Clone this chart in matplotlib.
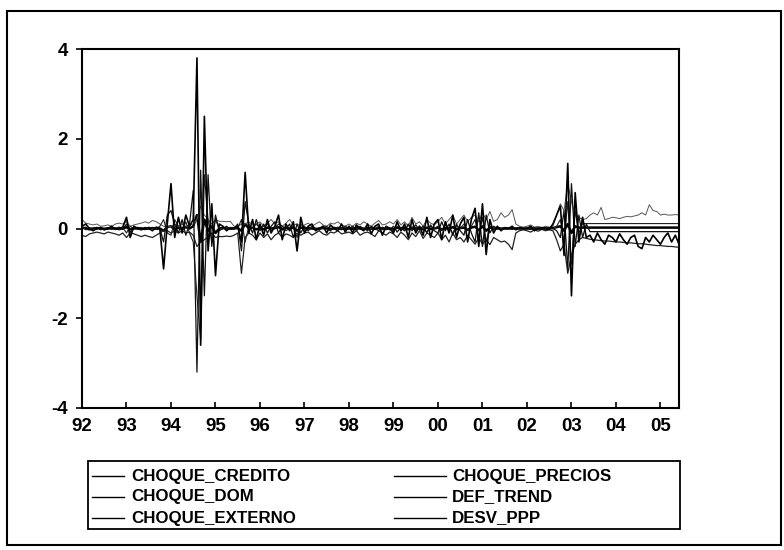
import matplotlib
matplotlib.use("Agg")
import matplotlib.pyplot as plt
from matplotlib.lines import Line2D
from matplotlib.patches import Rectangle
import numpy as np

plt.rcParams['font.family'] = ['Liberation Sans', 'DejaVu Sans']

start_year = 1992
year_ticks = list(range(1992, 2006))
year_labels = ['92', '93', '94', '95', '96', '97', '98', '99', '00', '01', '02', '03', '04', '05']
y_ticks = [-4, -2, 0, 2, 4]
y_labels = ['-4', '-2', '0', '2', '4']

choque_credito = [
    0.05, -0.03, 0.02, 0.00, -0.02, 0.03, 0.00, -0.02, 0.02, 0.00, -0.03, 0.02,
    -0.10, 0.05, 0.00, -0.02, 0.02, 0.00, -0.02, 0.02, 0.00, 0.05, 0.20, -0.10,
    -0.15, 0.20, 0.05, -0.05, 0.15, -0.10, -0.30, -1.50, -2.50, 1.20, 0.20, -0.30,
    0.20, 0.00, 0.02, 0.00, -0.02, 0.00, 0.00, 0.20, -0.30, 0.05, 0.00, 0.10,
    0.00, 0.05, 0.10, -0.05, 0.00, 0.10, 0.05, -0.05, 0.00, 0.05, -0.20, 0.10,
    0.02, -0.02, 0.05, 0.00, -0.03, 0.02, 0.05, -0.02, 0.00, 0.03, -0.02, 0.02,
    0.00, 0.03, -0.02, 0.05, 0.00, -0.05, 0.02, 0.00, 0.05, -0.03, 0.00, 0.02,
    -0.05, 0.05, 0.00, -0.05, 0.08, 0.00, -0.05, 0.05, 0.00, -0.08, 0.05, 0.00,
    0.05, -0.05, 0.08, 0.00, -0.10, 0.05, 0.00, 0.10, -0.05, 0.05, 0.20, -0.20,
    0.25, -0.30, 0.05, 0.00, 0.02, 0.00, -0.02, 0.00, 0.02, 0.00, -0.02, 0.00,
    0.00, 0.02, 0.00, -0.02, 0.00, 0.02, 0.00, 0.00, 0.05, 0.20, -0.30, 0.60,
    -0.80, 0.40, -0.10, 0.11, 0.11, 0.11, 0.11, 0.11, 0.11, 0.11, 0.11, 0.11,
    0.11, 0.11, 0.11, 0.11, 0.11, 0.11, 0.11, 0.11, 0.11, 0.11, 0.11, 0.11,
    0.11, 0.11, 0.11, 0.11, 0.11, 0.11,
]

choque_dom = [
    0.00, 0.03, -0.02, 0.00, 0.02, -0.03, 0.00, 0.02, -0.02, 0.00, 0.03, -0.02,
    0.10, -0.08, 0.00, 0.02, 0.00, -0.02, 0.03, 0.00, -0.02, 0.00, -0.30, 0.30,
    0.40, 0.10, -0.10, 0.20, -0.15, 0.10, 0.85, -3.20, 1.30, -1.50, 1.20, -0.40,
    0.30, -0.05, 0.00, 0.05, -0.02, 0.00, 0.10, -0.50, 0.60, 0.10, -0.10, 0.20,
    -0.05, 0.10, -0.10, 0.05, 0.15, -0.10, 0.05, 0.00, 0.10, -0.20, 0.10, -0.10,
    0.05, -0.05, 0.03, 0.00, -0.03, 0.05, 0.00, -0.05, 0.03, 0.00, -0.03, 0.05,
    0.00, 0.05, -0.05, 0.03, 0.00, -0.03, 0.05, 0.00, -0.05, 0.03, 0.00, -0.03,
    0.05, -0.08, 0.03, -0.05, 0.10, -0.05, 0.08, -0.03, 0.05, -0.10, 0.08, -0.05,
    -0.10, 0.15, -0.05, 0.10, -0.15, 0.10, -0.05, -0.15, 0.20, -0.10, -0.30, 0.35,
    -0.40, 0.30, -0.10, 0.05, 0.00, -0.03, 0.02, 0.00, -0.02, 0.00, 0.02, 0.00,
    0.00, -0.02, 0.02, 0.00, -0.02, 0.00, 0.02, 0.00, -0.05, -0.20, 0.40, -0.90,
    1.00, -0.40, 0.30, -0.20, 0.10, -0.07, -0.07, -0.07, -0.07, -0.07, -0.07, -0.07,
    -0.07, -0.07, -0.07, -0.07, -0.07, -0.07, -0.07, -0.07, -0.07, -0.07, -0.07, -0.07,
    -0.07, -0.07, -0.07, -0.07, -0.07, -0.07,
]

choque_externo = [
    0.05, 0.10, 0.00, -0.05, 0.00, 0.02, -0.03, 0.00, 0.05, -0.02, 0.00, 0.03,
    0.25, -0.20, 0.05, 0.00, -0.03, 0.02, 0.00, -0.05, 0.03, 0.00, -0.90, 0.10,
    1.00, -0.20, 0.25, -0.10, 0.30, 0.05, 0.20, 3.80, -2.60, 2.50, -0.50, 0.55,
    -1.05, 0.10, 0.05, -0.05, 0.02, 0.00, 0.05, -0.30, 1.25, -0.10, 0.20, -0.25,
    0.10, -0.15, 0.20, -0.10, 0.05, 0.30, -0.25, 0.10, -0.05, 0.15, -0.50, 0.25,
    -0.10, 0.05, 0.10, -0.05, 0.00, 0.05, -0.10, 0.08, 0.00, -0.05, 0.10, -0.08,
    0.05, -0.10, 0.08, 0.00, -0.05, 0.10, -0.12, 0.05, 0.10, -0.15, 0.05, 0.00,
    -0.10, 0.15, -0.05, 0.10, -0.20, 0.20, -0.10, 0.05, -0.15, 0.25, -0.20, 0.10,
    0.20, -0.25, 0.15, -0.10, 0.30, -0.20, 0.10, 0.25, -0.30, 0.20, 0.45, -0.40,
    0.55, -0.58, 0.20, -0.10, 0.05, -0.05, 0.02, 0.00, 0.05, -0.03, 0.02, 0.00,
    0.00, 0.05, -0.05, 0.00, 0.02, 0.00, -0.02, 0.10, 0.30, 0.50, -0.60, 1.45,
    -1.50, 0.80, -0.30, 0.25, -0.20, -0.15, -0.30, -0.10, -0.25, -0.35, -0.15, -0.20,
    -0.30, -0.12, -0.25, -0.35, -0.20, -0.15, -0.40, -0.45, -0.20, -0.30, -0.15, -0.25,
    -0.35, -0.20, -0.10, -0.30, -0.15, -0.35,
]

choque_precios = [
    0.02, 0.00, -0.02, 0.00, 0.01, 0.00, -0.01, 0.00, 0.01, 0.00, -0.01, 0.00,
    0.03, -0.02, 0.00, 0.01, 0.00, -0.01, 0.00, 0.01, 0.00, 0.00, -0.05, 0.03,
    0.05, -0.02, 0.02, 0.00, 0.03, 0.00, 0.05, 0.30, -0.30, 0.20, -0.05, 0.05,
    -0.10, 0.00, 0.01, 0.00, 0.00, 0.00, 0.01, -0.05, 0.10, 0.00, 0.02, -0.02,
    0.01, -0.02, 0.02, 0.00, 0.01, 0.03, -0.02, 0.01, 0.00, 0.02, -0.05, 0.02,
    0.00, 0.01, 0.00, -0.01, 0.00, 0.01, 0.00, -0.01, 0.00, 0.01, 0.00, -0.01,
    0.00, -0.01, 0.01, 0.00, -0.01, 0.01, 0.00, -0.01, 0.01, 0.00, -0.01, 0.00,
    -0.02, 0.02, 0.00, 0.01, -0.02, 0.02, 0.00, 0.01, -0.02, 0.02, -0.01, 0.00,
    0.02, -0.02, 0.01, 0.00, 0.03, -0.02, 0.01, 0.02, -0.03, 0.02, 0.04, -0.04,
    0.05, -0.05, 0.02, 0.00, 0.00, 0.00, 0.00, 0.00, 0.01, 0.00, 0.00, 0.00,
    0.00, 0.00, 0.00, 0.00, 0.00, 0.00, 0.00, 0.01, 0.03, 0.05, -0.05, 0.10,
    -0.10, 0.05, 0.02, 0.02, 0.02, 0.02, 0.02, 0.02, 0.02, 0.02, 0.02, 0.02,
    0.02, 0.02, 0.02, 0.02, 0.02, 0.02, 0.02, 0.02, 0.02, 0.02, 0.02, 0.02,
    0.02, 0.02, 0.02, 0.02, 0.02, 0.02,
]

def_trend = [
    0.20, 0.12, 0.10, 0.08, 0.10, 0.05, 0.06, 0.08, 0.05, 0.10, 0.12, 0.10,
    0.15, 0.05, 0.08, 0.10, 0.12, 0.15, 0.12, 0.18, 0.15, 0.10, 0.05, 0.02,
    0.05, 0.10, 0.05, 0.10, 0.05, 0.08, 0.10, 0.20, 0.50, 0.30, 0.20, 0.10,
    0.20, 0.16, 0.16, 0.15, 0.16, 0.05, 0.05, 0.10, 0.10, 0.15, 0.08, 0.10,
    0.15, 0.05, 0.12, 0.20, 0.10, 0.15, 0.05, 0.12, 0.20, 0.08, 0.10, 0.05,
    0.08, 0.12, 0.05, 0.10, 0.15, 0.08, 0.05, 0.12, 0.10, 0.15, 0.08, 0.05,
    0.10, 0.05, 0.12, 0.08, 0.15, 0.10, 0.05, 0.12, 0.18, 0.08, 0.10, 0.15,
    0.10, 0.20, 0.08, 0.15, 0.05, 0.25, 0.10, 0.15, 0.05, 0.20, 0.12, 0.08,
    0.15, 0.25, 0.10, 0.20, 0.30, 0.10, 0.20, 0.30, 0.15, 0.25, 0.30, 0.15,
    0.35, 0.20, 0.38, 0.16, 0.20, 0.35, 0.25, 0.30, 0.42, 0.10, 0.05, 0.03,
    0.05, 0.08, 0.03, 0.05, 0.02, 0.05, 0.03, 0.05, 0.30, 0.55, 0.40, 1.00,
    0.60, 0.30, 0.25, 0.20, 0.22, 0.30, 0.35, 0.30, 0.47, 0.20, 0.22, 0.25,
    0.24, 0.22, 0.25, 0.27, 0.26, 0.28, 0.30, 0.35, 0.30, 0.53, 0.40, 0.38,
    0.30, 0.32, 0.30, 0.30, 0.31, 0.30,
]

desv_ppp = [
    -0.15, -0.18, -0.12, -0.10, -0.08, -0.10, -0.12, -0.08, -0.10, -0.12, -0.15, -0.10,
    -0.20, -0.10, -0.12, -0.15, -0.18, -0.15, -0.18, -0.20, -0.15, -0.10, -0.05, -0.05,
    -0.10, -0.05, -0.10, -0.05, -0.10, -0.08, -0.15, -0.40, -0.30, -0.25, -0.20, -0.10,
    -0.20, -0.18, -0.18, -0.17, -0.18, -0.15, -0.10, -1.00, -0.20, -0.10, -0.15, -0.25,
    -0.10, -0.20, -0.12, -0.25, -0.15, -0.10, -0.20, -0.12, -0.15, -0.20, -0.10, -0.15,
    -0.10, -0.08, -0.15, -0.10, -0.05, -0.12, -0.15, -0.08, -0.10, -0.05, -0.12, -0.10,
    -0.08, -0.12, -0.05, -0.15, -0.10, -0.08, -0.12, -0.18, -0.05, -0.10, -0.15, -0.08,
    -0.12, -0.20, -0.08, -0.15, -0.25, -0.10, -0.18, -0.05, -0.22, -0.10, -0.15, -0.20,
    -0.10, -0.25, -0.15, -0.30, -0.10, -0.25, -0.20, -0.30, -0.15, -0.25, -0.35, -0.20,
    -0.35, -0.25, -0.36, -0.20, -0.25, -0.30, -0.28, -0.35, -0.47, -0.10, -0.05, -0.03,
    -0.05, -0.08, -0.03, -0.06, -0.02, -0.05, -0.03, -0.05, -0.25, -0.50, -0.35, -1.00,
    -0.60, -0.35, -0.25, -0.20, -0.22, -0.24, -0.25, -0.26, -0.27, -0.28, -0.28, -0.29,
    -0.30, -0.30, -0.31, -0.32, -0.32, -0.33, -0.34, -0.34, -0.35, -0.36, -0.37, -0.38,
    -0.38, -0.39, -0.40, -0.40, -0.41, -0.42,
]

series_names = ['CHOQUE_CREDITO', 'CHOQUE_DOM', 'CHOQUE_EXTERNO',
                'CHOQUE_PRECIOS', 'DEF_TREND', 'DESV_PPP']
series_vals = [choque_credito, choque_dom, choque_externo,
               choque_precios, def_trend, desv_ppp]
styles = [
    dict(color='#222222', lw=0.8),
    dict(color='#111111', lw=0.9),
    dict(color='#000000', lw=1.2),
    dict(color='#000000', lw=1.8),
    dict(color='#555555', lw=0.7),
    dict(color='#222222', lw=0.9),
]

W, H = 784, 550
fig = plt.figure(figsize=(W / 100, H / 100), dpi=100)

# outer frame
fig.add_artist(Rectangle((7 / W, 1 - 545 / H), (781 - 7) / W, (545 - 11) / H,
                         transform=fig.transFigure, fill=False, lw=1.5, ec='black'))

ax = fig.add_axes([82 / W, 1 - 408 / H, (679 - 82) / W, (408 - 49) / H])
order = [3, 4, 5, 0, 1, 2]
for k in order:
    vals = np.array(series_vals[k])
    x = start_year + np.arange(len(vals)) / 12.0
    ax.plot(x, vals, **styles[k])

n = len(choque_credito)
ax.set_xlim(start_year, start_year + (n - 1) / 12.0)
ax.set_ylim(-4, 4)
ax.set_xticks(year_ticks)
ax.set_xticklabels(year_labels)
ax.set_yticks(y_ticks)
ax.set_yticklabels(y_labels)
ax.tick_params(axis='x', direction='in', length=4, width=1.2, pad=7,
               labelsize=13.5)
ax.tick_params(axis='y', direction='out', length=4, width=1.2, pad=6,
               labelsize=13.5)
for lab in ax.get_xticklabels() + ax.get_yticklabels():
    lab.set_fontweight('bold')
for sp in ax.spines.values():
    sp.set_linewidth(1.5)

# legend box
fig.add_artist(Rectangle((88 / W, 1 - 529 / H), (680 - 88) / W, (529 - 461) / H,
                         transform=fig.transFigure, fill=False, lw=1.3, ec='black'))
rows_y = [476, 497, 518]
col_line = [(92, 124), (394, 446)]
col_text = [131, 452]
for i, name in enumerate(series_names):
    c = i // 3
    r = i % 3
    yy = 1 - rows_y[r] / H
    fig.add_artist(Line2D([col_line[c][0] / W, col_line[c][1] / W], [yy, yy],
                          transform=fig.transFigure, color='black', lw=1.0))
    fig.text(col_text[c] / W, yy, name, fontsize=12.2, va='center', ha='left',
             fontweight='bold')

fig.savefig('out.png', dpi=100)
